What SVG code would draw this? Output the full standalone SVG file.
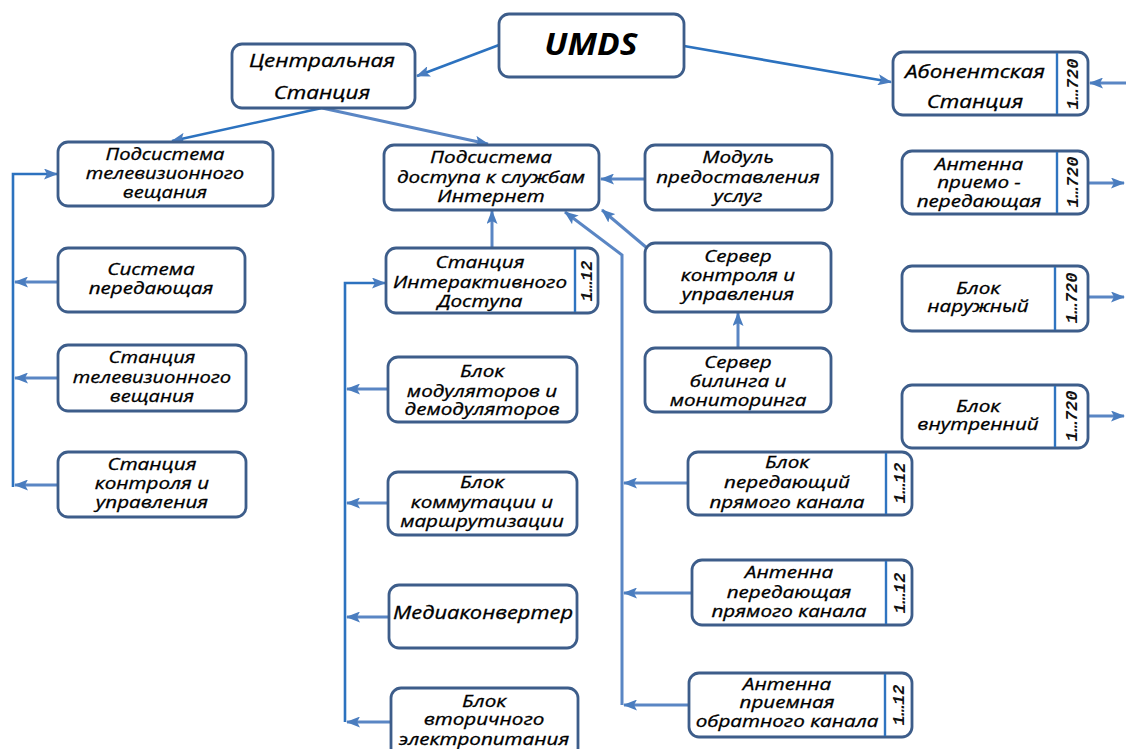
<svg xmlns="http://www.w3.org/2000/svg" width="1126" height="749" viewBox="0 0 1126 749">
<style>
.box{fill:#fff;stroke:#3d5d8a;stroke-width:2.8}
.div{stroke:#2f74c0;stroke-width:2.4}
.t{font-family:"Open Sans","Noto Sans",sans-serif;font-style:italic;font-size:16.5px;fill:#000;stroke:#000;stroke-width:0.3;text-anchor:middle}
.big{font-family:"Open Sans","Noto Sans",sans-serif;font-style:italic;font-weight:bold;font-size:30px;fill:#000;text-anchor:middle}
.lab{font-family:"Liberation Mono",monospace;font-style:italic;font-weight:bold;font-size:17px;fill:#111;text-anchor:middle}
.c1{fill:none;stroke:#2c72bf;stroke-width:2.6;marker-end:url(#ah)}
.c2{fill:none;stroke:#5a86c4;stroke-width:3;marker-end:url(#ah)}
</style>
<defs>
<marker id="ah" markerUnits="userSpaceOnUse" markerWidth="14" markerHeight="11" refX="13" refY="5.5" orient="auto">
<path d="M0,0 L14,5.5 L0,11 L3,5.5 z" fill="#4a7dbf"/>
</marker>
</defs>
<rect width="1126" height="749" fill="#fff"/>

<g id="connectors">
<line class="c1" x1="499" y1="45" x2="417" y2="76"/>
<line class="c1" x1="684" y1="46" x2="891" y2="82"/>
<line class="c1" x1="322" y1="108" x2="172" y2="141"/>
<line class="c2" x1="322" y1="108" x2="488" y2="144"/>
<polyline class="c1" points="13,487 13,174 57,174"/>
<line class="c2" x1="58" y1="282" x2="15" y2="282"/>
<line class="c2" x1="58" y1="378" x2="15" y2="378"/>
<line class="c2" x1="58" y1="485" x2="15" y2="485"/>
<line class="c2" x1="645" y1="179" x2="601" y2="179"/>
<line class="c2" x1="647" y1="248" x2="602" y2="210"/>
<polyline class="c2" points="622,705 622,255 565,212"/>
<line class="c2" x1="688" y1="483" x2="624" y2="483"/>
<line class="c2" x1="692" y1="593" x2="624" y2="593"/>
<line class="c2" x1="689" y1="705" x2="624" y2="705"/>
<line class="c2" x1="492" y1="248" x2="492" y2="211"/>
<line class="c2" x1="738" y1="348" x2="738" y2="313"/>
<polyline class="c1" points="345,722 345,283 385,283"/>
<line class="c2" x1="388" y1="389" x2="347" y2="389"/>
<line class="c2" x1="388" y1="503" x2="347" y2="503"/>
<line class="c2" x1="389" y1="617" x2="347" y2="617"/>
<line class="c2" x1="391" y1="722" x2="347" y2="722"/>
<line class="c2" x1="1126" y1="83" x2="1090" y2="83"/>
<line class="c2" x1="1088" y1="183" x2="1124" y2="183"/>
<line class="c2" x1="1088" y1="297" x2="1124" y2="297"/>
<line class="c2" x1="1088" y1="416" x2="1124" y2="416"/>
</g>

<g id="n-umds">
<rect class="box" x="499" y="14" width="185" height="63" rx="10"/>
<text class="big" transform="translate(591 0) scale(1.12 1)"><tspan x="0" y="55">UMDS</tspan></text>
</g>
<g id="n-central">
<rect class="box" x="232" y="44" width="183" height="64" rx="10"/>
<text class="t" transform="translate(322 0) scale(1.28 1)" style="font-size:17.5px"><tspan x="0" y="67">Центральная</tspan><tspan x="0" y="99">Станция</tspan></text>
</g>
<g id="n-abon">
<rect class="box" x="893" y="52" width="195" height="63" rx="10"/>
<line class="div" x1="1057" y1="53" x2="1057" y2="114"/>
<text class="t" transform="translate(975 0) scale(1.28 1)" style="font-size:17.5px"><tspan x="0" y="78">Абонентская</tspan><tspan x="0" y="108">Станция</tspan></text>
<text class="lab" transform="translate(1078 84) rotate(-90)">1…720</text>
</g>
<g id="n-ant-pp">
<rect class="box" x="902" y="151" width="186" height="63" rx="10"/>
<line class="div" x1="1057" y1="152" x2="1057" y2="213"/>
<text class="t" transform="translate(979 0) scale(1.25 1)"><tspan x="0" y="170">Антенна</tspan><tspan x="0" y="188">приемо -</tspan><tspan x="0" y="207">передающая</tspan></text>
<text class="lab" transform="translate(1078 182) rotate(-90)">1…720</text>
</g>
<g id="n-nar">
<rect class="box" x="902" y="266" width="186" height="65" rx="10"/>
<line class="div" x1="1055" y1="267" x2="1055" y2="330"/>
<text class="t" transform="translate(978 0) scale(1.25 1)"><tspan x="0" y="294">Блок</tspan><tspan x="0" y="312">наружный</tspan></text>
<text class="lab" transform="translate(1077 298) rotate(-90)">1…720</text>
</g>
<g id="n-vnu">
<rect class="box" x="902" y="385" width="186" height="63" rx="10"/>
<line class="div" x1="1055" y1="386" x2="1055" y2="447"/>
<text class="t" transform="translate(978 0) scale(1.25 1)"><tspan x="0" y="412">Блок</tspan><tspan x="0" y="430">внутренний</tspan></text>
<text class="lab" transform="translate(1077 416) rotate(-90)">1…720</text>
</g>
<g id="n-tvsub">
<rect class="box" x="58" y="142" width="215" height="64" rx="10"/>
<text class="t" transform="translate(165 0) scale(1.22 1)"><tspan x="0" y="160">Подсистема</tspan><tspan x="0" y="179">телевизионного</tspan><tspan x="0" y="198">вещания</tspan></text>
</g>
<g id="n-sys">
<rect class="box" x="58" y="248" width="187" height="64" rx="10"/>
<text class="t" transform="translate(151 0) scale(1.25 1)"><tspan x="0" y="275">Система</tspan><tspan x="0" y="294">передающая</tspan></text>
</g>
<g id="n-sttv">
<rect class="box" x="58" y="345" width="188" height="66" rx="10"/>
<text class="t" transform="translate(152 0) scale(1.22 1)"><tspan x="0" y="363">Станция</tspan><tspan x="0" y="383">телевизионного</tspan><tspan x="0" y="402">вещания</tspan></text>
</g>
<g id="n-stku">
<rect class="box" x="58" y="452" width="188" height="65" rx="10"/>
<text class="t" transform="translate(152 0) scale(1.25 1)"><tspan x="0" y="470">Станция</tspan><tspan x="0" y="489">контроля и</tspan><tspan x="0" y="508">управления</tspan></text>
</g>
<g id="n-inet">
<rect class="box" x="384" y="145" width="215" height="65" rx="10"/>
<text class="t" transform="translate(491 0) scale(1.25 1)"><tspan x="0" y="163">Подсистема</tspan><tspan x="0" y="183">доступа к службам</tspan><tspan x="0" y="202">Интернет</tspan></text>
</g>
<g id="n-sid">
<rect class="box" x="386" y="248" width="212" height="65" rx="10"/>
<line class="div" x1="575" y1="249" x2="575" y2="312"/>
<text class="t" transform="translate(480 0) scale(1.25 1)"><tspan x="0" y="268">Станция</tspan><tspan x="0" y="288">Интерактивного</tspan><tspan x="0" y="307">Доступа</tspan></text>
<text class="lab" transform="translate(592 281) rotate(-90)">1…12</text>
</g>
<g id="n-mpu">
<rect class="box" x="645" y="145" width="187" height="65" rx="10"/>
<text class="t" transform="translate(738 0) scale(1.25 1)"><tspan x="0" y="163">Модуль</tspan><tspan x="0" y="183">предоставления</tspan><tspan x="0" y="202">услуг</tspan></text>
</g>
<g id="n-sku">
<rect class="box" x="645" y="243" width="186" height="69" rx="10"/>
<text class="t" transform="translate(738 0) scale(1.25 1)"><tspan x="0" y="262">Сервер</tspan><tspan x="0" y="281">контроля и</tspan><tspan x="0" y="300">управления</tspan></text>
</g>
<g id="n-sbm">
<rect class="box" x="645" y="348" width="186" height="64" rx="10"/>
<text class="t" transform="translate(738 0) scale(1.25 1)"><tspan x="0" y="368">Сервер</tspan><tspan x="0" y="387">билинга и</tspan><tspan x="0" y="406">мониторинга</tspan></text>
</g>
<g id="n-bmd">
<rect class="box" x="388" y="357" width="189" height="65" rx="10"/>
<text class="t" transform="translate(482 0) scale(1.25 1)"><tspan x="0" y="377">Блок</tspan><tspan x="0" y="397">модуляторов и</tspan><tspan x="0" y="415">демодуляторов</tspan></text>
</g>
<g id="n-bkm">
<rect class="box" x="388" y="472" width="189" height="63" rx="10"/>
<text class="t" transform="translate(482 0) scale(1.25 1)"><tspan x="0" y="488">Блок</tspan><tspan x="0" y="508">коммутации и</tspan><tspan x="0" y="527">маршрутизации</tspan></text>
</g>
<g id="n-mk">
<rect class="box" x="389" y="585" width="188" height="63" rx="10"/>
<text class="t" transform="translate(483 0) scale(1.25 1)" style="font-size:17.5px"><tspan x="0" y="619">Медиаконвертер</tspan></text>
</g>
<g id="n-bvp">
<rect class="box" x="391" y="688" width="187" height="70" rx="10"/>
<text class="t" transform="translate(484 0) scale(1.25 1)"><tspan x="0" y="707">Блок</tspan><tspan x="0" y="725">вторичного</tspan><tspan x="0" y="745">электропитания</tspan></text>
</g>
<g id="n-bpk">
<rect class="box" x="688" y="452" width="224" height="63" rx="10"/>
<line class="div" x1="886" y1="453" x2="886" y2="514"/>
<text class="t" transform="translate(787 0) scale(1.25 1)"><tspan x="0" y="468">Блок</tspan><tspan x="0" y="488">передающий</tspan><tspan x="0" y="508">прямого канала</tspan></text>
<text class="lab" transform="translate(905 483) rotate(-90)">1…12</text>
</g>
<g id="n-apk">
<rect class="box" x="692" y="560" width="220" height="65" rx="10"/>
<line class="div" x1="886" y1="561" x2="886" y2="624"/>
<text class="t" transform="translate(789 0) scale(1.25 1)"><tspan x="0" y="578">Антенна</tspan><tspan x="0" y="598">передающая</tspan><tspan x="0" y="617">прямого канала</tspan></text>
<text class="lab" transform="translate(905 593) rotate(-90)">1…12</text>
</g>
<g id="n-aok">
<rect class="box" x="689" y="673" width="223" height="64" rx="10"/>
<line class="div" x1="885" y1="674" x2="885" y2="736"/>
<text class="t" transform="translate(787 0) scale(1.25 1)"><tspan x="0" y="690">Антенна</tspan><tspan x="0" y="708">приемная</tspan><tspan x="0" y="727">обратного канала</tspan></text>
<text class="lab" transform="translate(904 705) rotate(-90)">1…12</text>
</g>
</svg>
